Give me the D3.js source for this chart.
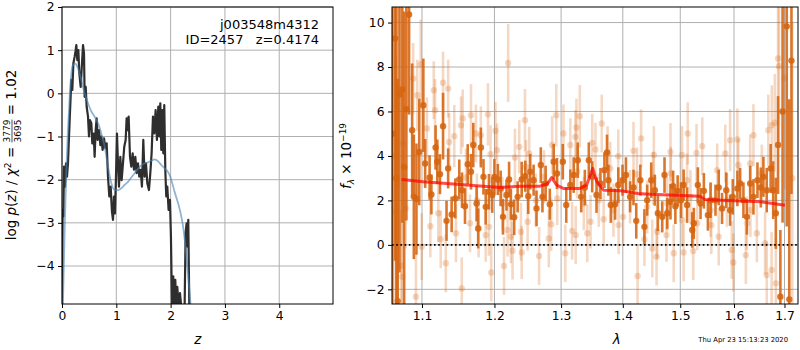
<!DOCTYPE html>
<html>
<head>
<meta charset="utf-8">
<script src="https://cdn.jsdelivr.net/npm/d3@7"></script>
<style>
  body { margin: 0; background: #fff; }
  svg { font-family: "DejaVu Sans", sans-serif; }
  text { white-space: pre; }
</style>
</head>
<body>
<div id="chart"></div>
<script>
// ---- p(z) panel ----
const zGrid = [0.000, 0.012, 0.025, 0.037, 0.055, 0.074, 0.092, 0.110, 0.141, 0.172, 0.190, 0.209, 0.233, 0.252, 0.264, 0.282,
  0.301, 0.319, 0.344, 0.368, 0.387, 0.405, 0.417, 0.436, 0.454, 0.479, 0.497, 0.515, 0.540, 0.558, 0.583, 0.601,
  0.620, 0.638, 0.656, 0.681, 0.706, 0.724, 0.748, 0.773, 0.798, 0.822, 0.847, 0.871, 0.896, 0.920, 0.939, 0.957,
  0.975, 0.994, 1.012, 1.031, 1.049, 1.074, 1.098, 1.123, 1.147, 1.172, 1.190, 1.209, 1.227, 1.252, 1.276, 1.301,
  1.325, 1.350, 1.374, 1.399, 1.423, 1.448, 1.472, 1.497, 1.521, 1.546, 1.571, 1.601, 1.626, 1.650, 1.675, 1.699,
  1.724, 1.748, 1.773, 1.791, 1.810, 1.828, 1.847, 1.865, 1.883, 1.902, 1.920, 1.939, 1.963, 1.988, 2.006, 2.025,
  2.049, 2.067, 2.086, 2.104, 2.123, 2.147, 2.172, 2.196, 2.227, 2.258, 2.276, 2.294, 2.313, 2.325, 2.344];
const logPz = [-4.94, -2.70, -2.85, -1.70, -2.16, -1.62, -1.93, -1.62, -0.62, 0.31, 0.08, 0.69, 0.85, 1.00, 1.12, 0.77,
  1.00, 0.46, 0.15, 0.69, 1.12, 0.93, -0.08, 0.15, -0.31, -0.54, -1.00, -0.62, -0.69, -1.16, -0.93, -1.47,
  -0.85, -0.58, -1.08, -0.85, -1.20, -1.00, -1.31, -1.04, -1.27, -1.16, -1.93, -2.39, -2.16, -2.74, -2.93, -2.39,
  -2.78, -1.93, -0.93, -1.62, -2.16, -1.47, -2.01, -1.62, -1.23, -1.08, -0.58, -0.85, -0.54, -1.47, -1.70, -1.39,
  -1.77, -1.47, -1.85, -1.62, -1.93, -1.77, -2.16, -1.08, -1.93, -1.62, -2.08, -2.24, -1.85, -1.39, -0.54, -0.93,
  -0.39, -1.08, -0.31, -1.00, -0.23, -1.31, -0.39, -1.39, -0.27, -1.77, -2.39, -2.16, -2.70, -2.47, -3.32, -4.94,
  -4.24, -4.86, -4.32, -4.94, -4.48, -4.94, -4.63, -4.94, -4.94, -4.94, -3.24, -3.01, -3.55, -2.93, -4.94];

// smooth template prior
const zSmooth = [0.015, 0.049, 0.080, 0.110, 0.141, 0.172, 0.202, 0.245, 0.294, 0.356, 0.417, 0.479, 0.540, 0.601, 0.663,
  0.724, 0.785, 0.847, 0.908, 0.969, 1.031, 1.092, 1.153, 1.215, 1.276, 1.337, 1.399, 1.460, 1.521, 1.583, 1.644,
  1.706, 1.767, 1.828, 1.890, 1.951, 1.980, 2.080, 2.170, 2.230, 2.280, 2.320, 2.360, 2.380];
const logPSmooth = [-5.0, -3.16, -1.77, -0.85, -0.08, 0.46, 0.66, 0.69, 0.58, 0.31, 0.00, -0.23, -0.42, -0.54, -0.69,
  -0.93, -1.23, -1.70, -2.08, -2.24, -2.24, -2.20, -2.12, -2.05, -1.95, -1.85, -1.75, -1.67, -1.62, -1.60, -1.56,
  -1.53, -1.57, -1.66, -1.74, -1.82, -1.89, -2.31, -2.70, -3.09, -3.63, -4.17, -4.78, -5.10];

const zTicks = [0, 1, 2, 3, 4];
const pzTicks = [-4, -3, -2, -1, 0, 1, 2];

// ---- spectrum panel ----
const lamDark = [1.0613, 1.0649, 1.0667, 1.0684, 1.0707, 1.0743, 1.0767, 1.0796, 1.0831, 1.0871, 1.0893, 1.0927, 1.0964,
  1.1018, 1.1042, 1.1101, 1.1125, 1.1181, 1.1204, 1.1240, 1.1282, 1.1329, 1.1351, 1.1399, 1.1449, 1.1504, 1.1542,
  1.1583, 1.1621, 1.1667, 1.1699, 1.1746, 1.1768, 1.1806, 1.1843, 1.1875, 1.1921, 1.1968, 1.2000, 1.2049, 1.2090,
  1.2124, 1.2175, 1.2213, 1.2239, 1.2288, 1.2339, 1.2399, 1.2452, 1.2497, 1.2527, 1.2578, 1.2622, 1.2687, 1.2712,
  1.2761, 1.2825, 1.2885, 1.2936, 1.3027, 1.3081, 1.3145, 1.3198, 1.3263, 1.3318, 1.3376, 1.3440, 1.3495, 1.3565,
  1.3629, 1.3694, 1.3737, 1.3760, 1.3800, 1.3871, 1.3924, 1.3995, 1.4053, 1.4123, 1.4181, 1.4228, 1.4298, 1.4368,
  1.4416, 1.4486, 1.4549, 1.4602, 1.4679, 1.4719, 1.4767, 1.4825, 1.4872, 1.4912, 1.4953, 1.5013, 1.5061, 1.5124,
  1.5217, 1.5246, 1.5320, 1.5370, 1.5431, 1.5506, 1.5556, 1.5648, 1.5709, 1.5772, 1.5852, 1.5926, 1.5976, 1.6065,
  1.6118, 1.6182, 1.6249, 1.6314, 1.6378, 1.6457, 1.6524, 1.6575, 1.6641, 1.6720, 1.6771, 1.6824, 1.6869, 1.6916,
  1.6961, 1.7046, 1.7098, 1.7143];
const fluxDark = [5.0, 9.28, 3.0, -2.53, 6.76, 6.99, 3.5, 6.1, 10.36, 5.16, 2.16, 2.06, 4.18,
  6.28, 3.66, 3.03, 2.27, 4.38, 3.74, 3.18, 5.34, 1.08, 3.44, 1.37, 2.09, 2.94, 2.46,
  1.74, 3.63, 3.29, 4.49, 1.86, 0.74, 4.38, 3.06, 1.71, 2.39, 2.24, 3.06, 2.94, 2.54,
  1.26, 2.24, 2.94, 1.83, 1.24, 2.16, 2.94, 3.09, 2.19, 3.29, 2.91, 1.64, 3.59, 2.16,
  2.76, 1.83, 3.74, 3.21, 3.74, 1.79, 2.69, 3.14, 3.81, 2.16, 2.58, 3.81, 3.06, 2.24,
  2.76, 3.36, 4.16, 2.91, 1.79, 1.83, 2.69, 2.91, 3.14, 2.16, 2.58, 1.08, 2.91, 0.81,
  2.01, 2.91, 2.46, 1.42, 1.26, 3.14, 1.42, 1.94, 2.64, 1.74, 2.43, 2.01, 2.69, 1.79,
  0.67, 0.97, 2.69, 1.86, 2.43, 1.34, 2.01, 2.01, 2.58, 1.64, 2.46, 1.56, 2.16, 2.54,
  2.76, 2.01, 1.26, 2.76, 2.16, 2.91, 2.58, 3.06, 2.46, 3.44, 2.46, 1.42, 4.49, -2.33,
  6.0, 9.83, -2.45, 8.29];
const errDark = [12, 10, 12, 10, 8, 6, 7, 5, 4.5, 3, 2.8, 2.5, 2.4,
  2.1, 1.1, 1.0, 0.9, 1.0, 1.0, 0.9, 1.5, 0.9, 0.9, 0.8, 0.9, 0.9, 0.8,
  0.8, 0.9, 0.8, 1.0, 0.8, 0.9, 0.9, 0.8, 0.8, 0.8, 0.8, 0.8, 0.7, 0.8,
  0.8, 0.7, 0.8, 0.7, 0.8, 0.7, 0.8, 0.7, 0.8, 0.8, 0.7, 0.8, 0.8, 0.7,
  0.8, 0.7, 0.8, 0.7, 0.8, 0.8, 0.7, 0.8, 0.8, 0.7, 0.8, 0.8, 0.7, 0.8,
  0.7, 0.8, 0.8, 0.7, 0.8, 0.7, 0.8, 0.7, 0.8, 0.7, 0.8, 0.8, 0.7, 0.8,
  0.7, 0.8, 0.7, 0.8, 0.7, 0.8, 0.7, 0.8, 0.7, 0.8, 0.7, 0.8, 0.7, 0.8,
  0.8, 0.7, 0.8, 0.7, 0.8, 0.7, 0.8, 0.7, 0.8, 0.7, 0.8, 0.7, 0.8, 0.8,
  0.7, 0.8, 0.8, 0.8, 0.8, 0.8, 0.9, 0.9, 1.0, 1.1, 1.3, 1.6, 2.2, 3.0,
  5.0, 9, 9, 6];

const lamLight = [1.0625, 1.0660, 1.0700, 1.0729, 1.0743, 1.0751, 1.0787, 1.0884, 1.0920, 1.0937, 1.0983, 1.0996,
  1.1065, 1.1111, 1.1157, 1.1174, 1.1218, 1.1250, 1.1282, 1.1319, 1.1351, 1.1365, 1.1435, 1.1458, 1.1528, 1.1538,
  1.1551, 1.1597, 1.1653, 1.1667, 1.1736, 1.1750, 1.1774, 1.1806, 1.1875, 1.1907, 1.1921, 1.1944, 1.1954, 1.2015,
  1.2037, 1.2115, 1.2139, 1.2190, 1.2199, 1.2239, 1.2264, 1.2299, 1.2363, 1.2388, 1.2399, 1.2448, 1.2463, 1.2488,
  1.2512, 1.2612, 1.2661, 1.2736, 1.2810, 1.2846, 1.2861, 1.2925, 1.2940, 1.3037, 1.3065, 1.3145, 1.3173, 1.3226,
  1.3230, 1.3242, 1.3253, 1.3295, 1.3360, 1.3415, 1.3468, 1.3495, 1.3548, 1.3602, 1.3650, 1.3682, 1.3747, 1.3790,
  1.3844, 1.3924, 1.3930, 1.4005, 1.4123, 1.4181, 1.4240, 1.4251, 1.4311, 1.4368, 1.4416, 1.4504, 1.4521, 1.4532,
  1.4579, 1.4591, 1.4754, 1.4767, 1.4825, 1.4830, 1.4882, 1.5031, 1.5035, 1.5061, 1.5124, 1.5135, 1.5185, 1.5235,
  1.5296, 1.5309, 1.5402, 1.5556, 1.5569, 1.5680, 1.5709, 1.5833, 1.5865, 1.5926, 1.5957, 1.5987, 1.6065, 1.6084,
  1.6229, 1.6249, 1.6314, 1.6318, 1.6378, 1.6445, 1.6543, 1.6608, 1.6641, 1.6673, 1.6739, 1.6743, 1.6804, 1.6824,
  1.6869, 1.6888, 1.7000, 1.7160];
const fluxLight = [4.0, 1.5, 7.0, -0.94, -1.43, 4.56, 1.64, 7.48, -2.33, 6.73, 8.13, -0.08,
  5.24, 0.84, 6.96, 6.06, 1.42, 0.25, 7.29, -0.83, 7.03, 4.63, 4.89, 0.52, 5.38, -1.96,
  5.69, 3.03, 0.97, 5.83, 5.01, 2.01, 0.74, 4.93, 0.44, 5.87, 0.81, 4.08, -1.24, 5.13,
  4.26, 1.86, -0.95, 0.67, 8.18, 0.37, -0.26, 3.93, 4.41, 0.59, -0.34, 5.61, 3.51, 1.04,
  4.11, 2.01, -0.50, 3.06, 0.29, 0.93, 4.49, 5.83, 2.09, 5.01, -0.38, 4.49, 0.63, 4.86,
  0.44, 5.28, 3.29, 5.79, 1.86, 0.52, 1.04, 4.59, 4.29, 2.01, 5.46, 1.15, 4.14, 3.44,
  1.56, 3.99, 0.89, 1.26, 2.16, 4.23, 3.18, -1.40, 4.79, 0.25, 1.71, -0.16, 2.99, 4.04,
  -0.53, 0.59, 0.44, 1.86, 4.18, 3.21, -0.38, 4.04, 1.11, -0.34, 2.91, 5.01, 2.16, -0.28,
  4.14, 0.97, 4.44, 1.56, 0.89, 3.36, 0.37, 4.11, 2.01, 4.71, -0.23, -0.79, 4.74, 3.59,
  -0.46, 0.97, 3.66, 1.56, 4.93, 0.52, 3.21, 0.07, -1.36, 5.16, -1.13, 5.38, 5.49, -1.73,
  8.38, 8.04, 7.5, 3.0];
const errLight = [8, 7, 4.5, 2.5, 2.5, 2.2, 1.8, 1.6, 2.0, 1.6, 2.0, 1.5,
  1.4, 1.4, 1.3, 1.4, 1.3, 1.3, 1.4, 1.3, 1.3, 1.3, 1.4, 1.3, 1.3, 1.4,
  1.3, 1.3, 1.3, 1.4, 1.3, 1.2, 1.3, 1.3, 1.2, 1.4, 1.3, 1.3, 1.3, 1.3,
  1.2, 1.2, 1.3, 1.2, 1.75, 1.2, 1.3, 1.3, 1.2, 1.3, 1.2, 1.4, 1.2, 1.3,
  1.2, 1.2, 1.3, 1.2, 1.3, 1.2, 1.3, 1.4, 1.2, 1.3, 1.3, 1.2, 1.3, 1.2,
  1.3, 1.3, 1.2, 1.4, 1.2, 1.3, 1.2, 1.3, 1.2, 1.2, 1.3, 1.2, 1.2, 1.2,
  1.2, 1.2, 1.3, 1.2, 1.2, 1.3, 1.2, 1.4, 1.3, 1.2, 1.2, 1.3, 1.2, 1.3,
  1.3, 1.2, 1.2, 1.2, 1.3, 1.2, 1.3, 1.3, 1.2, 1.3, 1.2, 1.4, 1.2, 1.3,
  1.3, 1.2, 1.3, 1.2, 1.3, 1.2, 1.3, 1.3, 1.2, 1.4, 1.3, 1.3, 1.4, 1.2,
  1.3, 1.2, 1.3, 1.2, 1.4, 1.3, 1.3, 1.4, 1.5, 1.6, 1.7, 1.8, 2.2, 2.0,
  3.0, 3.5, 5, 7];

// best-fit template
const lamModel = [1.0735, 1.1017, 1.1468, 1.1840, 1.2087, 1.2374, 1.2523, 1.2675, 1.2790, 1.2854, 1.2931, 1.3034,
  1.3298, 1.3405, 1.3503, 1.3570, 1.3680, 1.3973, 1.4254, 1.4465, 1.5360, 1.5447, 1.5987, 1.6507, 1.7010];
const fluxModel = [2.94, 2.84, 2.73, 2.64, 2.58, 2.64, 2.64, 2.64, 2.75, 3.03, 2.69, 2.54,
  2.54, 2.69, 3.44, 2.84, 2.46, 2.43, 2.31, 2.28, 2.19, 2.04, 1.98, 1.94, 1.78];

const lamTicks = [1.1, 1.2, 1.3, 1.4, 1.5, 1.6, 1.7];
const fluxTicks = [-2, 0, 2, 4, 6, 8, 10];

const width = 800, height = 350;
const orange = '#d6640f';
const gridColor = '#b0b0b0';
const tickFont = 12.3;

const svg = d3.select('#chart').append('svg')
  .attr('width', width)
  .attr('height', height);

const L = { x0: 62, x1: 333, y0: 7, y1: 304 };
const R = { x0: 392, x1: 798, y0: 7, y1: 304 };

const xz = d3.scaleLinear().domain([0, 4.99]).range([L.x0, L.x1]);
const yp = d3.scaleLinear().domain([-4.88, 2]).range([L.y1, L.y0]);
const xl = d3.scaleLog().domain([1.0611, 1.7278]).range([R.x0, R.x1]);
const yf = d3.scaleLinear().domain([-2.66, 10.7]).range([R.y1, R.y0]);

// clip paths
const defs = svg.append('defs');
[['clipL', L], ['clipR', R]].forEach(([id, b]) => {
  defs.append('clipPath').attr('id', id).append('rect')
    .attr('x', b.x0).attr('y', b.y0).attr('width', b.x1 - b.x0).attr('height', b.y1 - b.y0);
});

function drawGrid(b, xs, ys, xt, yt) {
  const g = svg.append('g');
  g.selectAll('.gx').data(xt).enter().append('line')
    .attr('x1', d => xs(d)).attr('x2', d => xs(d))
    .attr('y1', b.y0).attr('y2', b.y1)
    .attr('stroke', gridColor).attr('stroke-width', 1);
  g.selectAll('.gy').data(yt).enter().append('line')
    .attr('x1', b.x0).attr('x2', b.x1)
    .attr('y1', d => ys(d)).attr('y2', d => ys(d))
    .attr('stroke', gridColor).attr('stroke-width', 1);
}

function drawAxes(b, xs, ys, xt, yt, xfmt, yfmt) {
  const ax = svg.append('g').attr('transform', `translate(0,${b.y1})`)
    .call(d3.axisBottom(xs).tickValues(xt).tickFormat(xfmt).tickSize(4).tickPadding(3.5));
  const ay = svg.append('g').attr('transform', `translate(${b.x0},0)`)
    .call(d3.axisLeft(ys).tickValues(yt).tickFormat(yfmt).tickSize(4).tickPadding(3.5));
  [ax, ay].forEach(a => {
    a.select('.domain').remove();
    a.selectAll('text').attr('font-size', tickFont).attr('fill', '#000').attr('font-family', '"DejaVu Sans", sans-serif');
    a.selectAll('line').attr('stroke', '#000');
  });
  svg.append('rect')
    .attr('x', b.x0).attr('y', b.y0)
    .attr('width', b.x1 - b.x0).attr('height', b.y1 - b.y0)
    .attr('fill', 'none').attr('stroke', '#000').attr('stroke-width', 1);
}

// lay out a mathtext-like label from pieces, rotated, centred on (cx, cy)
function mathLabel(cx, cy, pieces) {
  const outer = svg.append('g').attr('transform', `translate(${cx},${cy}) rotate(-90)`);
  const g = outer.append('g');
  let x = 0;
  pieces.forEach(p => {
    if (p.frac) {
      const top = g.append('text').attr('x', x).attr('y', -5.8).attr('font-size', 9).text(p.frac[0]);
      const bot = g.append('text').attr('x', x).attr('y', 5.2).attr('font-size', 9).text(p.frac[1]);
      const w = Math.max(top.node().getComputedTextLength(), bot.node().getComputedTextLength());
      g.append('line').attr('x1', x).attr('x2', x + w).attr('y1', -4).attr('y2', -4)
        .attr('stroke', '#000').attr('stroke-width', 0.7);
      x += w;
    } else {
      const t = g.append('text').attr('x', x).attr('y', p.dy || 0)
        .attr('font-size', p.size || 13.5)
        .attr('font-style', p.italic ? 'italic' : null)
        .text(p.text);
      x += t.node().getComputedTextLength();
    }
  });
  g.attr('transform', `translate(${-x / 2},0)`);
  return outer;
}

// ===== left panel: p(z) =====
drawGrid(L, xz, yp, zTicks, pzTicks);

svg.append('path')
  .attr('clip-path', 'url(#clipL)')
  .attr('d', d3.line().x(d => xz(d[0])).y(d => yp(d[1]))(zGrid.map((z, i) => [z, logPz[i]])))
  .attr('fill', 'none').attr('stroke', '#2e2e2e').attr('stroke-width', 2.2).attr('stroke-linejoin', 'round');

svg.append('path')
  .attr('clip-path', 'url(#clipL)')
  .attr('d', d3.line().curve(d3.curveMonotoneX).x(d => xz(d[0])).y(d => yp(d[1]))(zSmooth.map((z, i) => [z, logPSmooth[i]])))
  .attr('fill', 'none').attr('stroke', 'steelblue').attr('stroke-opacity', 0.6).attr('stroke-width', 1.8);

drawAxes(L, xz, yp, zTicks, pzTicks, d3.format('d'), d3.format('d'));

svg.append('text').attr('x', 319).attr('y', 29).attr('text-anchor', 'end').attr('font-size', 13).text('j003548m4312');
svg.append('text').attr('x', 319).attr('y', 44).attr('text-anchor', 'end').attr('font-size', 13).text('ID=2457   z=0.4174');

svg.append('text').attr('x', xz(2.5)).attr('y', 344).attr('text-anchor', 'middle')
  .attr('font-size', 13.5).attr('font-style', 'italic').text('z');

mathLabel(16, 155, [
  { text: 'log ' }, { text: 'p', italic: true }, { text: '(' }, { text: 'z', italic: true }, { text: ') / ' },
  { text: 'χ', italic: true }, { text: '2', size: 9, dy: -5.5 }, { text: ' = ' },
  { frac: ['3779', '3695'] }, { text: ' = 1.02' }
]);

// ===== right panel: spectrum =====
drawGrid(R, xl, yf, lamTicks, fluxTicks);

const plotR = svg.append('g').attr('clip-path', 'url(#clipR)');

function errorbars(lam, flux, err, opacity) {
  const g = plotR.append('g');
  g.selectAll('line').data(lam).enter().append('line')
    .attr('x1', d => xl(d)).attr('x2', d => xl(d))
    .attr('y1', (d, i) => yf(flux[i] - err[i]))
    .attr('y2', (d, i) => yf(flux[i] + err[i]))
    .attr('stroke', orange).attr('stroke-opacity', opacity).attr('stroke-width', 2.6);
  g.selectAll('circle').data(lam).enter().append('circle')
    .attr('cx', d => xl(d)).attr('cy', (d, i) => yf(flux[i]))
    .attr('r', 3.2)
    .attr('fill', orange).attr('fill-opacity', opacity);
}

errorbars(lamLight, fluxLight, errLight, 0.25);
errorbars(lamDark, fluxDark, errDark, 0.88);

plotR.append('path')
  .attr('d', d3.line().x(d => xl(d[0])).y(d => yf(d[1]))(lamModel.map((l, i) => [l, fluxModel[i]])))
  .attr('fill', 'none').attr('stroke', 'red').attr('stroke-opacity', 0.7).attr('stroke-width', 3)
  .attr('stroke-linejoin', 'round');

plotR.append('line')
  .attr('x1', R.x0).attr('x2', R.x1).attr('y1', yf(0)).attr('y2', yf(0))
  .attr('stroke', '#000').attr('stroke-width', 1.6).attr('stroke-dasharray', '1.6,2.6');

drawAxes(R, xl, yf, lamTicks, fluxTicks, d3.format('.1f'), d3.format('d'));

svg.append('text').attr('x', xl(1.39)).attr('y', 344).attr('text-anchor', 'middle')
  .attr('font-size', 13.5).attr('font-style', 'italic').text('λ');

mathLabel(351, 156, [
  { text: 'f', italic: true }, { text: 'λ', italic: true, size: 9, dy: 3 }, { text: ' × 10' },
  { text: '−19', size: 9, dy: -5.5 }
]);

svg.append('text').attr('x', 788).attr('y', 342).attr('text-anchor', 'end')
  .attr('font-size', 6.8).text('Thu Apr 23 15:13:23 2020');
</script>
</body>
</html>
